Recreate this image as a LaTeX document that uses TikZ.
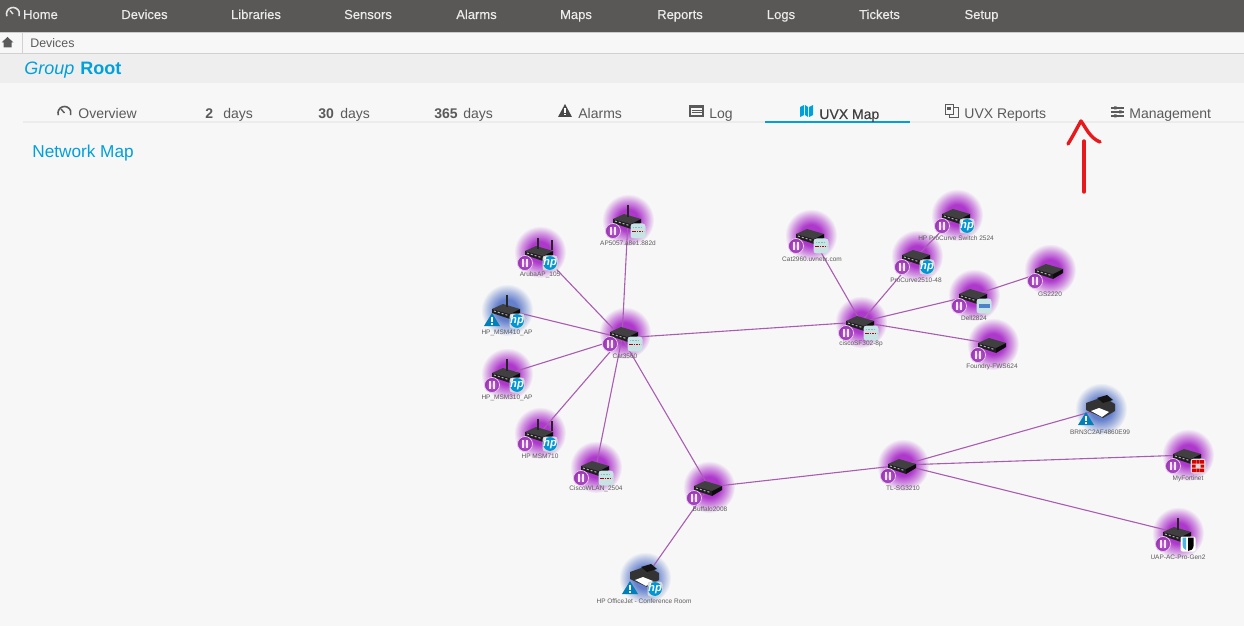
\documentclass[tikz,border=0pt]{standalone}
\usepackage{fontspec}
\setmainfont{Liberation Sans}
\newfontfamily\navfont[FakeBold=0.35]{Liberation Sans}
\usepackage{tikz}
\usetikzlibrary{fadings,shadings}

\definecolor{navgray}{HTML}{595856}
\definecolor{pagegray}{HTML}{F7F7F7}
\definecolor{bandgray}{HTML}{EEEEEE}
\definecolor{rulegray}{HTML}{ECECEC}
\definecolor{textgray}{HTML}{5A5A5A}
\definecolor{uvxblue}{HTML}{00A0DC}
\definecolor{glowpurple}{HTML}{AE38CC}
\definecolor{glowblue}{HTML}{6480CC}
\definecolor{linkpurple}{HTML}{A85CB2}
\definecolor{hpblue}{HTML}{0096D6}
\definecolor{penred}{HTML}{E8191C}

\pgfdeclareradialshading{glowmask}{\pgfpointorigin}{color(0bp)=(pgftransparent!0); color(10bp)=(pgftransparent!0); color(18bp)=(pgftransparent!50); color(25bp)=(pgftransparent!100); color(50bp)=(pgftransparent!100)}
\pgfdeclarefading{glowfade}{\pgfuseshading{glowmask}}

\newcommand{\px}[1]{\fontsize{#1}{#1}\selectfont}

\tikzset{
  glowp/.style={circle,fill=glowpurple,inner sep=0pt,minimum size=26pt,path fading=glowfade},
  glowb/.style={circle,fill=glowblue,inner sep=0pt,minimum size=26pt,path fading=glowfade},
  link/.style={linkpurple,line width=0.55pt},
  devlabel/.style={text=textgray,inner sep=0pt,font=\px{3.25}},
  navlabel/.style={text=white!92!black,inner sep=0pt,font=\navfont\px{6.5},anchor=base},
  tablabel/.style={text=textgray,inner sep=0pt,font=\px{7},anchor=base west},
  pics/switchicon/.style={code={
    \fill[black!75] (-15,-1) -- (-4,-6) -- (13,-1) -- (3,4) -- cycle;
    \fill[black!88] (-15,-1) -- (3,4) -- (3,9) -- (-15,3) -- cycle;
    \fill[black!95] (3,4) -- (13,-1) -- (13,3) -- (3,9) -- cycle;
    \draw[white!70!black,line width=0.5pt,dash pattern=on 1pt off 1pt] (-13,1) -- (1,5.4);
  }},
  pics/apicon/.style={code={
    \pic {switchicon};
    \draw[black!85,line width=0.6pt] (0,-3) -- (0,-15);
  }},
  pics/twinapicon/.style={code={
    \pic {switchicon};
    \draw[black!85,line width=0.6pt] (-2,-3) -- (-2,-14);
    \draw[black!85,line width=0.6pt] (12,-2) -- (12,-12);
  }},
  pics/printericon/.style={code={
    \fill[black!80] (-15,-6) -- (2,-12) -- (14,-5) -- (14,2) -- (2,9) -- (-15,1) -- cycle;
    \fill[black!92] (-4,-11) -- (6,-14) -- (12,-9) -- (2,-6) -- cycle;
    \fill[white] (-10,2) -- (-2,-1) -- (8,3) -- (1,8) -- cycle;
  }},
  pics/pausebadge/.style={code={
    \shade[inner color=glowpurple!75!white,outer color=glowpurple!85!black,draw=white!70!glowpurple,line width=0.4pt] (-15,11) circle (7.5);
    \fill[white!88!glowpurple] (-18.4,7) rectangle (-16,15);
    \fill[white!88!glowpurple] (-14,7) rectangle (-11.6,15);
  }},
  pics/warnbadge/.style={code={
    \fill[hpblue!85!black] (-15,3) -- (-7,16) -- (-23,16) -- cycle;
    \fill[white] (-15.7,7) rectangle (-14.3,12);
    \fill[white] (-15.7,13) rectangle (-14.3,14.6);
  }},
  pics/hpbadge/.style={code={
    \fill[white!85!black,rounded corners=1.5pt] (2.5,3.5) rectangle (17.5,18.5);
    \fill[hpblue] (10,11) circle (6.9);
    \node[text=white,inner sep=0pt,font=\px{5.6}\bfseries\itshape] (hptext) at (10,11) {hp};
  }},
  pics/ciscobadge/.style={code={
    \fill[white!78!teal,rounded corners=1.5pt] (2.5,3.5) rectangle (17.5,18.5);
    \draw[red!70!black,line width=0.9pt,dash pattern=on 0.8pt off 0.4pt] (4,11.5) -- (16,11.5);
    \draw[white!50!teal,line width=0.4pt,dash pattern=on 0.7pt off 0.7pt] (4.5,7) -- (15.5,7);
  }},
  pics/dellbadge/.style={code={
    \fill[white!78!teal,rounded corners=1.5pt] (2.5,3.5) rectangle (17.5,18.5);
    \fill[blue!40!teal!70] (4.5,8.5) rectangle (15.5,13);
  }},
  pics/fortibadge/.style={code={
    \fill[white!85!black,rounded corners=1.5pt] (2.5,3.5) rectangle (17.5,18.5);
    \fill[red!85!black] (4,5) rectangle (8.5,8.5) (9,5) rectangle (11.5,8.5) (12,5) rectangle (16,8.5);
    \fill[red!85!black] (4,9.5) rectangle (7.5,12.5) (12.5,9.5) rectangle (16,12.5);
    \fill[red!85!black] (4,13.5) rectangle (8.5,17) (9,13.5) rectangle (11.5,17) (12,13.5) rectangle (16,17);
  }},
  pics/ubntbadge/.style={code={
    \fill[white,rounded corners=1pt] (2.5,3.5) rectangle (17.5,18.5);
    \fill[black] (10,4.5) -- (15.5,4.5) -- (15.5,13) .. controls (15.5,16.5) and (12,18) .. (10,18) -- cycle;
    \fill[hpblue!70] (4.5,4.5) -- (8,4.5) -- (8,17) .. controls (6,16) and (4.5,14.5) .. (4.5,12) -- cycle;
  }},
}

\begin{document}
\begin{tikzpicture}[x=0.5pt,y=-0.5pt]
\useasboundingbox (0,0) rectangle (1244,626);
\fill[pagegray] (0,0) rectangle (1244,626);

% page bars
\fill[bandgray] (0,54) rectangle (1244,83);
\fill[white!82!black] (0,53) rectangle (1244,54);
\fill[navgray] (0,0) rectangle (1244,32);
\fill[white!80!black] (0,32) rectangle (1244,33);
\fill[white!82!black] (22,33) rectangle (22.6,53);
\fill[rulegray] (23,121) rectangle (1244,123);
\fill[uvxblue] (765,121) rectangle (910,123);

% top menu
\draw[white!90!black,line width=0.8pt] (6.9,16.2) arc (160:380:6.5);
\draw[white!90!black,line width=0.7pt] (13,14) -- (10,10.5);
\node[navlabel] (home) at (40.5,19) {Home};
\node[navlabel] (devices) at (144.5,19) {Devices};
\node[navlabel] (libraries) at (256,19) {Libraries};
\node[navlabel] (sensors) at (368,19) {Sensors};
\node[navlabel] (alarms) at (476.5,19) {Alarms};
\node[navlabel] (maps) at (576,19) {Maps};
\node[navlabel] (reports) at (680,19) {Reports};
\node[navlabel] (logs) at (781,19) {Logs};
\node[navlabel] (tickets) at (879.5,19) {Tickets};
\node[navlabel] (setup) at (981.5,19) {Setup};

% breadcrumb and title
\fill[textgray] (1.5,42.5) -- (7.5,37) -- (13.5,42.5) -- (11.5,42.5) -- (11.5,47.5) -- (3.5,47.5) -- (3.5,42.5) -- cycle;
\node[tablabel,font=\px{6.2}] (crumb) at (30,48) {Devices};
\node[inner sep=0pt,anchor=base west,text=uvxblue,font=\px{9}\itshape] (group) at (24,75) {Group};
\node[inner sep=0pt,anchor=base west,text=uvxblue,font=\px{9}\bfseries] (root) at (80,75) {Root};
\node[inner sep=0pt,anchor=base west,text=uvxblue,font=\px{8.6}] (netmap) at (32,158) {Network Map};

% tabs
\draw[textgray,line width=0.8pt] (58.4,115.2) arc (160:380:6.5);
\draw[textgray,line width=0.7pt] (64.5,113) -- (61,109);
\node[tablabel] (overview) at (78,119) {Overview};
\node[tablabel,font=\px{7}\bfseries] (two) at (205,119) {2};
\node[tablabel] (twod) at (223,119) {days};
\node[tablabel,font=\px{7}\bfseries] (thirty) at (318,119) {30};
\node[tablabel] (thirtyd) at (340,119) {days};
\node[tablabel,font=\px{7}\bfseries] (year) at (434,119) {365};
\node[tablabel] (yeard) at (463,119) {days};
\fill[textgray!80!black] (565,104) -- (572,117) -- (558,117) -- cycle;
\fill[white] (564.3,108) rectangle (565.7,113);
\fill[white] (564.3,114) rectangle (565.7,115.5);
\node[tablabel] (alarmtab) at (578,119) {Alarms};
\draw[textgray,line width=0.6pt] (690,106) rectangle (703,116);
\fill[textgray] (690,106) rectangle (703,108.5);
\draw[textgray,line width=0.5pt] (691.5,110.5) -- (701.5,110.5) (691.5,113) -- (701.5,113);
\node[tablabel] (logtab) at (709,119) {Log};
\fill[uvxblue] (800,107) -- (804,105) -- (804,115) -- (800,117) -- cycle;
\fill[uvxblue] (805,105) -- (808,107) -- (808,117) -- (805,115) -- cycle;
\fill[uvxblue] (809,107) -- (813,105) -- (813,115) -- (809,117) -- cycle;
\node[tablabel,text=textgray!70!black,font=\navfont\px{7}] (maptab) at (819,119) {UVX Map};
\draw[textgray,line width=0.5pt] (945,105) rectangle (953,115);
\draw[textgray,line width=0.5pt] (953,108) -- (958,108) -- (958,118) -- (949,118) -- (949,115);
\fill[textgray] (947,107) rectangle (951,110);
\node[tablabel] (reporttab) at (964,119) {UVX Reports};
\draw[textgray,line width=0.6pt] (1111,108) -- (1124,108) (1111,112) -- (1124,112) (1111,116) -- (1124,116);
\fill[textgray] (1114,106.5) rectangle (1116.5,109.5) (1119,110.5) rectangle (1121.5,113.5) (1114,114.5) rectangle (1116.5,117.5);
\node[tablabel] (managetab) at (1129,119) {Management};

% glows
\node[glowp] (ap) at (628,220) {};
\node[glowp] (aruba) at (540,252) {};
\node[glowb] (msmfour) at (507,310) {};
\node[glowp] (msmthree) at (507,374) {};
\node[glowp] (msmseven) at (540,433) {};
\node[glowp] (wlan) at (596,467) {};
\node[glowp] (cat) at (625,333) {};
\node[glowp] (buffalo) at (709,487) {};
\node[glowb] (officejet) at (645,578) {};
\node[glowp] (cattwo) at (811,235) {};
\node[glowp] (procurve) at (957,215) {};
\node[glowp] (curvetwo) at (917,256) {};
\node[glowp] (dell) at (974,295) {};
\node[glowp] (gs) at (1050,270) {};
\node[glowp] (sf) at (861,322) {};
\node[glowp] (foundry) at (993,344) {};
\node[glowp] (tl) at (903,465) {};
\node[glowb] (brn) at (1101,409) {};
\node[glowp] (forti) at (1188,455) {};
\node[glowp] (uap) at (1178,533) {};
\coordinate (hub) at (622,338);

% links
\draw[link] (hub) -- (ap.center);
\draw[link] (hub) -- (aruba.center);
\draw[link] (hub) -- (msmfour.center);
\draw[link] (hub) -- (msmthree.center);
\draw[link] (hub) -- (msmseven.center);
\draw[link] (hub) -- (wlan.center);
\draw[link] (hub) -- (buffalo.center);
\draw[link] (hub) -- (sf.center);
\draw[link] (buffalo.center) -- (officejet.center);
\draw[link] (buffalo.center) -- (tl.center);
\draw[link] (sf.center) -- (cattwo.center);
\draw[link] (sf.center) -- (curvetwo.center);
\draw[link] (curvetwo.center) -- (procurve.center);
\draw[link] (sf.center) -- (dell.center);
\draw[link] (dell.center) -- (gs.center);
\draw[link] (sf.center) -- (foundry.center);
\draw[link] (tl.center) -- (brn.center);
\draw[link] (tl.center) -- (forti.center);
\draw[link] (tl.center) -- (uap.center);

% device icons
\pic at (ap.center) {apicon};
\pic at (ap.center) {pausebadge};
\pic at (ap.center) {ciscobadge};
\pic at (aruba.center) {twinapicon};
\pic at (aruba.center) {pausebadge};
\pic at (aruba.center) {hpbadge};
\pic at (msmfour.center) {apicon};
\pic at (msmfour.center) {warnbadge};
\pic at (msmfour.center) {hpbadge};
\pic at (msmthree.center) {apicon};
\pic at (msmthree.center) {pausebadge};
\pic at (msmthree.center) {hpbadge};
\pic at (msmseven.center) {twinapicon};
\pic at (msmseven.center) {pausebadge};
\pic at (msmseven.center) {hpbadge};
\pic at (wlan.center) {switchicon};
\pic at (wlan.center) {pausebadge};
\pic at (wlan.center) {ciscobadge};
\pic at (cat.center) {switchicon};
\pic at (cat.center) {pausebadge};
\pic at (cat.center) {ciscobadge};
\pic at (buffalo.center) {switchicon};
\pic at (buffalo.center) {pausebadge};
\pic at (officejet.center) {printericon};
\pic at (officejet.center) {warnbadge};
\pic at (officejet.center) {hpbadge};
\pic at (cattwo.center) {switchicon};
\pic at (cattwo.center) {pausebadge};
\pic at (cattwo.center) {ciscobadge};
\pic at (procurve.center) {switchicon};
\pic at (procurve.center) {pausebadge};
\pic at (procurve.center) {hpbadge};
\pic at (curvetwo.center) {switchicon};
\pic at (curvetwo.center) {pausebadge};
\pic at (curvetwo.center) {hpbadge};
\pic at (dell.center) {switchicon};
\pic at (dell.center) {pausebadge};
\pic at (dell.center) {dellbadge};
\pic at (gs.center) {switchicon};
\pic at (gs.center) {pausebadge};
\pic at (sf.center) {switchicon};
\pic at (sf.center) {pausebadge};
\pic at (sf.center) {ciscobadge};
\pic at (foundry.center) {switchicon};
\pic at (foundry.center) {pausebadge};
\pic at (tl.center) {switchicon};
\pic at (tl.center) {pausebadge};
\pic at (brn.center) {printericon};
\pic at (brn.center) {warnbadge};
\pic at (forti.center) {switchicon};
\pic at (forti.center) {pausebadge};
\pic at (forti.center) {fortibadge};
\pic at (uap.center) {apicon};
\pic at (uap.center) {pausebadge};
\pic at (uap.center) {ubntbadge};

% device names
\node[devlabel] (aptext) at (628,243) {AP5057.a8e1.882d};
\node[devlabel] (arubatext) at (540,275) {ArubaAP\_105};
\node[devlabel] (msmfourtext) at (507,333) {HP\_MSM410\_AP};
\node[devlabel] (msmthreetext) at (507,398) {HP\_MSM310\_AP};
\node[devlabel] (msmseventext) at (540,456) {HP MSM710};
\node[devlabel] (wlantext) at (596,489) {CiscoWLAN\_2504};
\node[devlabel] (cattext) at (625,356) {Cat3560};
\node[devlabel] (buffalotext) at (710,509) {Buffalo2008};
\node[devlabel] (jettext) at (644,601) {HP OfficeJet - Conference Room};
\node[devlabel] (cattwotext) at (812,259) {Cat2960.uvnetx.com};
\node[devlabel] (procurvetext) at (956,238) {HP ProCurve Switch 2524};
\node[devlabel] (curvetwotext) at (916,280) {ProCurve2510-48};
\node[devlabel] (delltext) at (974,318) {Dell2824};
\node[devlabel] (gstext) at (1050,294) {GS2220};
\node[devlabel] (sftext) at (861,344) {ciscoSF302-8p};
\node[devlabel] (foundrytext) at (992,367) {Foundry-FWS624};
\node[devlabel] (tltext) at (903,488) {TL-SG3210};
\node[devlabel] (brntext) at (1100,432) {BRN3C2AF4860E99};
\node[devlabel] (fortitext) at (1188,479) {MyFortinet};
\node[devlabel] (uaptext) at (1178,557) {UAP-AC-Pro-Gen2};

% red pen arrow
\coordinate (tip) at (1081,121);
\coordinate (tail) at (1084,192);
\draw[penred,line width=1.7pt,line cap=round] (1084,141) -- (tail);
\draw[penred,line width=1.7pt,line cap=round,line join=round] (1068,144) .. controls (1073,136) and (1077,128) .. (tip) .. controls (1086,128) and (1090,138) .. (1100,142);
\end{tikzpicture}
\end{document}
